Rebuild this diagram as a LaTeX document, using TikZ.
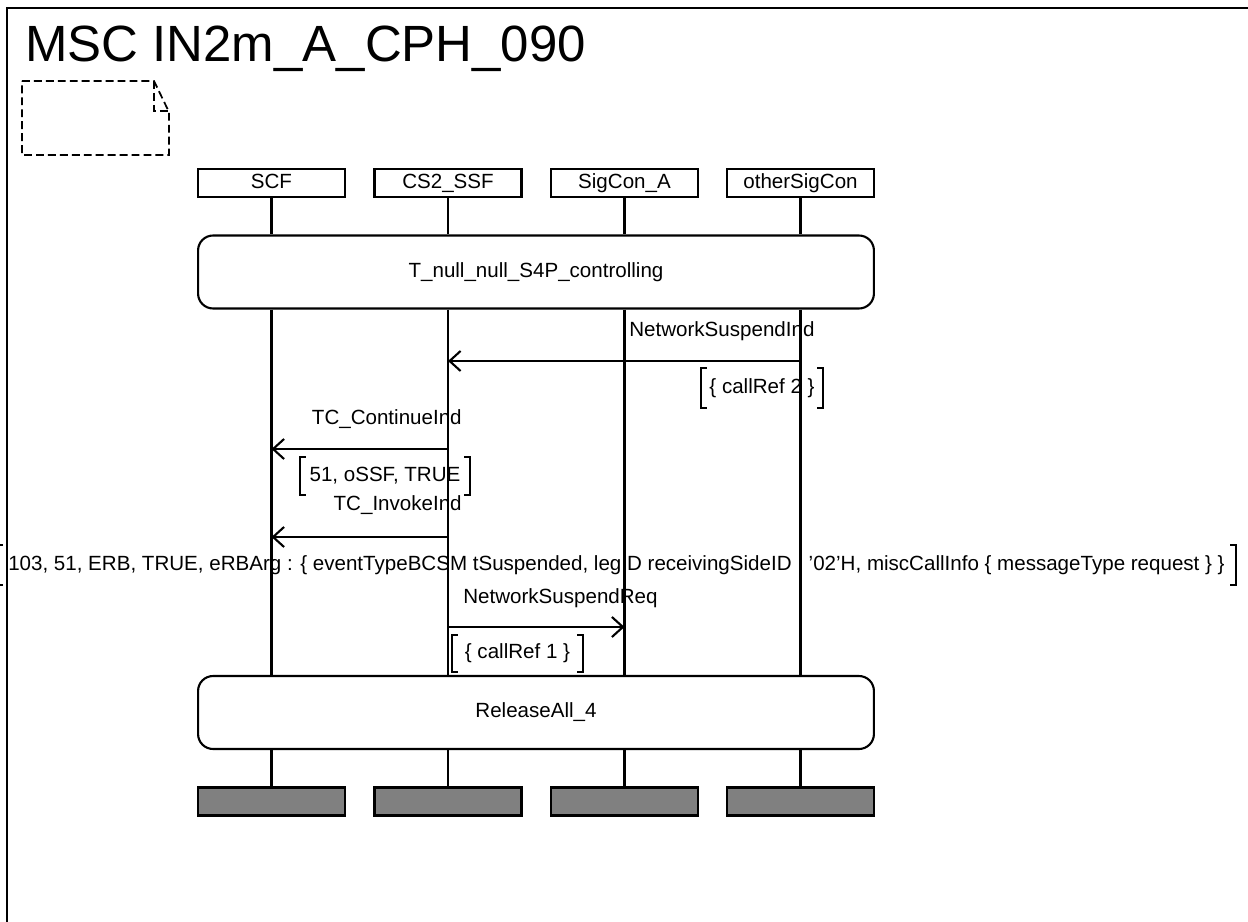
\documentclass[tikz,border=0pt]{standalone}
\usepackage{fontspec}
\setmainfont{Liberation Sans}
\usetikzlibrary{arrows.meta, positioning}
\tikzset{
	txt/.style      ={font=\fontsize{11.7}{14}\selectfont, inner sep=0pt},
	inst/.style     ={rectangle, draw=black, line width=1.2pt, minimum width=2.94cm, minimum height=0.56cm, inner sep=0pt, text height=1.6ex, text depth=0.4ex, txt},
	instend/.style  ={inst, fill=black!50},
	cond/.style     ={rectangle, rounded corners=0.3cm, draw=black, line width=1.2pt, minimum width=13.52cm, minimum height=1.46cm, txt},
	life/.style     ={line width=1.2pt},
	msg/.style      ={-{Straight Barb[length=2.2mm, width=4mm]}, line width=1.2pt},
	param/.style    ={rectangle, txt},
	brk/.style      ={line width=1.2pt},
	note/.style     ={dashed, dash pattern=on 4.5pt off 2.3pt, line width=1pt},
}
\begin{document}
\begin{tikzpicture}[x=0.02cm, y=-0.02cm]
	\useasboundingbox (0,0) rectangle (1248,922);
	% frame, title and comment
	\draw[line width=1.2pt] (7,8) rectangle (1270,940);
	\node[font=\fontsize{29}{34}\selectfont, inner sep=0pt, anchor=base west] (title) at (25,62) {MSC IN2m\_A\_CPH\_090};
	\draw[note] (22,81) -- (154,81) -- (169,112) -- (169,155) -- (22,155) -- cycle;
	\draw[note] (154,81) -- (154,111) -- (169,111);
	% instances
	\node[inst] (scf) at (271.5,183) {SCF};
	\node[inst] (ssf) at (448,183) {CS2\_SSF};
	\node[inst] (sca) at (624.5,183) {SigCon\_A};
	\node[inst] (osc) at (800.5,183) {otherSigCon};
	\node[cond] (c1) at (536,272) {T\_null\_null\_S4P\_controlling};
	\node[cond] (c2) at (536,712.5) {ReleaseAll\_4};
	\node[instend] (scf-e) at (271.5,801.5) {};
	\node[instend] (ssf-e) at (448,801.5) {};
	\node[instend] (sca-e) at (624.5,801.5) {};
	\node[instend] (osc-e) at (800.5,801.5) {};
	\foreach \i in {scf,ssf,sca,osc} {
		\draw[life] (\i.south) -- (\i.south |- c1.north);
		\draw[life] (\i.south |- c1.south) -- (\i.south |- c2.north);
		\draw[life] (\i.south |- c2.south) -- (\i-e.north);
	}
	% messages
	\coordinate (nsi-s) at (osc |- 0,361);
	\coordinate (nsi-r) at (ssf |- 0,361);
	\draw[msg] (nsi-s) -- (nsi-r);
	\node[txt, anchor=base west] (nsi-l) at (629,337) {NetworkSuspendInd};
	\node[param, minimum width=2.44cm, minimum height=0.8cm] (nsi-p) at (762,388) {\{ callRef 2 \}};
	\coordinate (tci-s) at (ssf |- 0,449);
	\coordinate (tci-r) at (scf |- 0,449);
	\draw[msg] (tci-s) -- (tci-r);
	\node[txt, anchor=base east] (tci-l) at (462,424) {TC\_ContinueInd};
	\node[param, minimum width=3.4cm, minimum height=0.76cm] (tci-p) at (385,476) {51, oSSF, TRUE};
	\coordinate (tii-s) at (ssf |- 0,537);
	\coordinate (tii-r) at (scf |- 0,537);
	\draw[msg] (tii-s) -- (tii-r);
	\node[txt, anchor=base east] (tii-l) at (462,510) {TC\_InvokeInd};
	\node[param, minimum width=24.78cm, minimum height=0.78cm] (tii-p) at (616.5,565) {103, 51, ERB, TRUE, eRBArg : \{ eventTypeBCSM tSuspended, legID receivingSideID : ’02’H, miscCallInfo \{ messageType request \} \}};
	\coordinate (nsr-s) at (ssf |- 0,627);
	\coordinate (nsr-r) at (sca |- 0,627);
	\draw[msg] (nsr-s) -- (nsr-r);
	\node[txt, anchor=base west] (nsr-l) at (463,603) {NetworkSuspendReq};
	\node[param, minimum width=2.62cm, minimum height=0.74cm] (nsr-p) at (517.5,653.5) {\{ callRef 1 \}};
	% parameter brackets
	\foreach \p in {nsi-p,tci-p,tii-p,nsr-p} {
		\draw[brk] ([shift={(6,0)}]\p.north west) -| (\p.south west) -- ++(6,0);
		\draw[brk] ([shift={(-6,0)}]\p.north east) -| (\p.south east) -- ++(-6,0);
	}
\end{tikzpicture}
\end{document}
